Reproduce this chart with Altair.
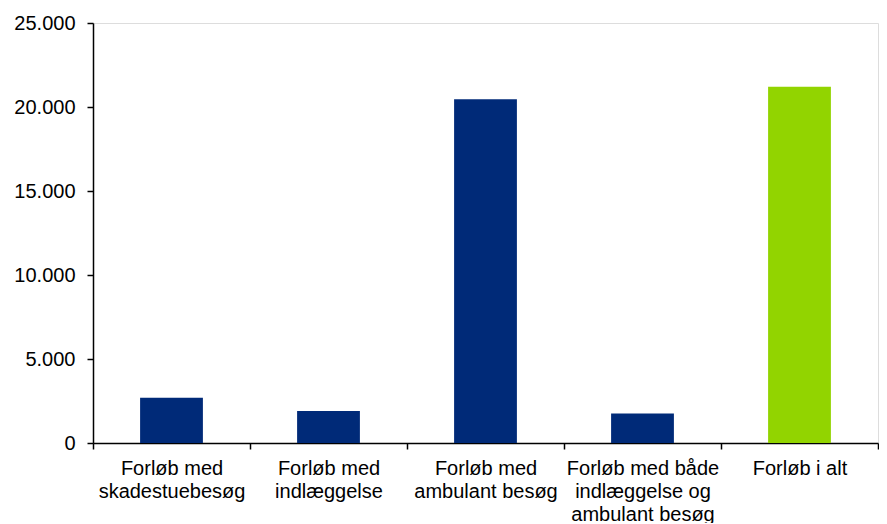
import json
import altair as alt
import pandas as pd

categories = [
    "Forløb med skadestuebesøg",
    "Forløb med indlæggelse",
    "Forløb med ambulant besøg",
    "Forløb med både indlæggelse og ambulant besøg",
    "Forløb i alt",
]
label_lines = [
    ["Forløb med", "skadestuebesøg"],
    ["Forløb med", "indlæggelse"],
    ["Forløb med", "ambulant besøg"],
    ["Forløb med både", "indlæggelse og", "ambulant besøg"],
    ["Forløb i alt"],
]
values = [2700, 1900, 20460, 1760, 21200]
groups = ["del", "del", "del", "del", "total"]

df = pd.DataFrame({"kategori": categories, "antal": values, "gruppe": groups})

label_map = json.dumps(dict(zip(categories, label_lines)), ensure_ascii=False)

FONT = "Liberation Sans"

chart = (
    alt.Chart(df)
    .mark_bar(width=alt.RelativeBandSize(0.4))
    .encode(
        x=alt.X(
            "kategori:N",
            sort=categories,
            scale=alt.Scale(paddingInner=0, paddingOuter=0),
            axis=alt.Axis(
                title=None,
                labelAngle=0,
                labelExpr=f"{label_map}[datum.value]",
                labelFont=FONT,
                labelFontSize=20,
                labelLineHeight=23,
                labelColor="black",
                labelPadding=9,
                labelBaseline="top",
                tickBand="extent",
                tickSize=6,
                tickWidth=1.5,
                tickColor="black",
                domainColor="black",
                domainWidth=1.5,
                grid=False,
            ),
        ),
        y=alt.Y(
            "antal:Q",
            scale=alt.Scale(domain=[0, 25000], nice=False),
            axis=alt.Axis(
                title=None,
                values=[0, 5000, 10000, 15000, 20000, 25000],
                labelExpr="replace(format(datum.value, ','), ',', '.')",
                labelFont=FONT,
                labelFontSize=20,
                labelColor="black",
                labelPadding=12,
                tickSize=6,
                tickWidth=1.5,
                tickColor="black",
                domainColor="black",
                domainWidth=1.5,
                grid=False,
            ),
        ),
        color=alt.Color(
            "gruppe:N",
            scale=alt.Scale(domain=["del", "total"], range=["#002A78", "#92D400"]),
            legend=None,
        ),
    )
    .properties(
        width=785,
        height=420,
        autosize=alt.AutoSizeParams(type="none"),
        padding={"left": 85, "top": 15, "right": 1, "bottom": 80},
    )
    .configure_view(stroke=None)
    .configure(background="white")
)

chart.save("out.html", embed_options={"renderer": "svg", "actions": False})
